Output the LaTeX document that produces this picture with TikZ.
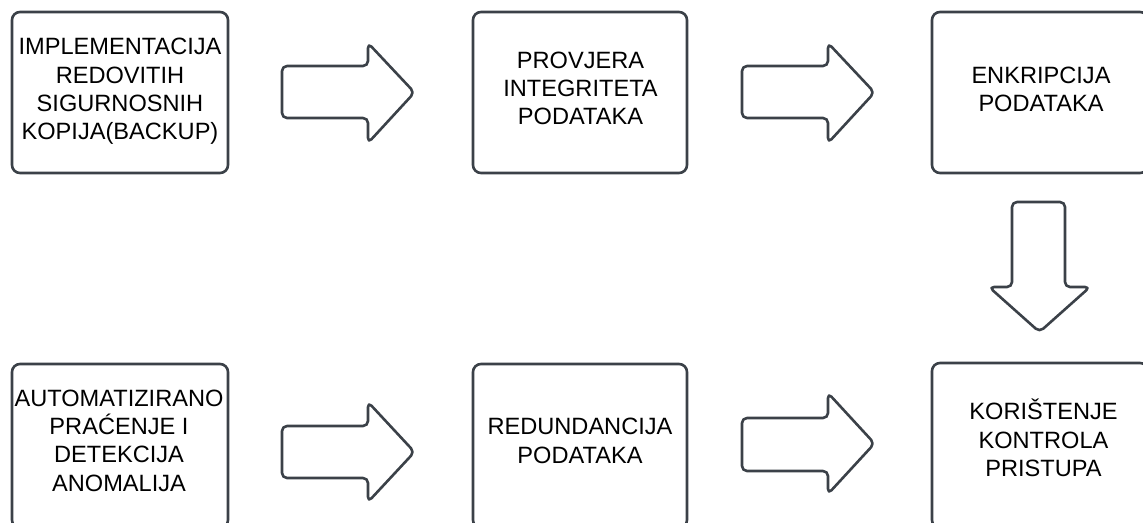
\documentclass[tikz,border=0pt]{standalone}
\usepackage{fontspec}
\setmainfont{Liberation Sans}
\definecolor{edge}{HTML}{3B4148}
\begin{document}
\begin{tikzpicture}[x=1pt,y=-1pt,
  box/.style={draw=edge,line width=2.6pt,rounded corners=8pt},
  blockarrow/.style={draw=edge,line width=2.6pt,rounded corners=5pt,line join=round},
  txt/.style={inner sep=0pt,align=center,text=black,font=\fontsize{23.6}{28.3}\selectfont}]
\useasboundingbox (0,0) rectangle (1143,522);
\clip (0,0) rectangle (1143,522);
% boxes
\draw[box] (12,12) rectangle (228,173);
\draw[box] (473,12) rectangle (687,173);
\draw[box] (932,12) rectangle (1148,173);
\draw[box] (12,364) rectangle (228,528);
\draw[box] (473,364) rectangle (687,528);
\draw[box] (932,363) rectangle (1148,528);
% texts
\node[txt] (t1) at (120,91.4) {IMPLEMENTACIJA\\REDOVITIH\\SIGURNOSNIH\\KOPIJA(BACKUP)};
\node[txt] (t2) at (580.5,88.5) {PROVJERA\\INTEGRITETA\\PODATAKA};
\node[txt] (t3) at (1041,89.5) {ENKRIPCIJA\\PODATAKA};
\node[txt] (t4) at (119,440.5) {AUTOMATIZIRANO\\PRAĆENJE I\\DETEKCIJA\\ANOMALIJA};
\node[txt] (t5) at (580,441) {REDUNDANCIJA\\PODATAKA};
\node[txt] (t6) at (1043.5,438) {KORIŠTENJE\\KONTROLA\\PRISTUPA};
% block arrows (right)
\draw[blockarrow] (282,66) -- (368,66) -- (368,43) -- (414.5,92.5) -- (368,143) -- (368,118) -- (282,118) -- cycle;
\draw[blockarrow] (742,66) -- (828,66) -- (828,43) -- (874.5,92.5) -- (828,143) -- (828,118) -- (742,118) -- cycle;
\draw[blockarrow] (282,426) -- (368,426) -- (368,402) -- (414.5,452) -- (368,502) -- (368,478) -- (282,478) -- cycle;
\draw[blockarrow] (742,418) -- (828,418) -- (828,393) -- (874.5,443.5) -- (828,494) -- (828,471) -- (742,471) -- cycle;
% block arrow (down)
\draw[blockarrow] (1012,202) -- (1065,202) -- (1065,287) -- (1090,287) -- (1039.5,332) -- (989,287) -- (1012,287) -- cycle;
\end{tikzpicture}
\end{document}
